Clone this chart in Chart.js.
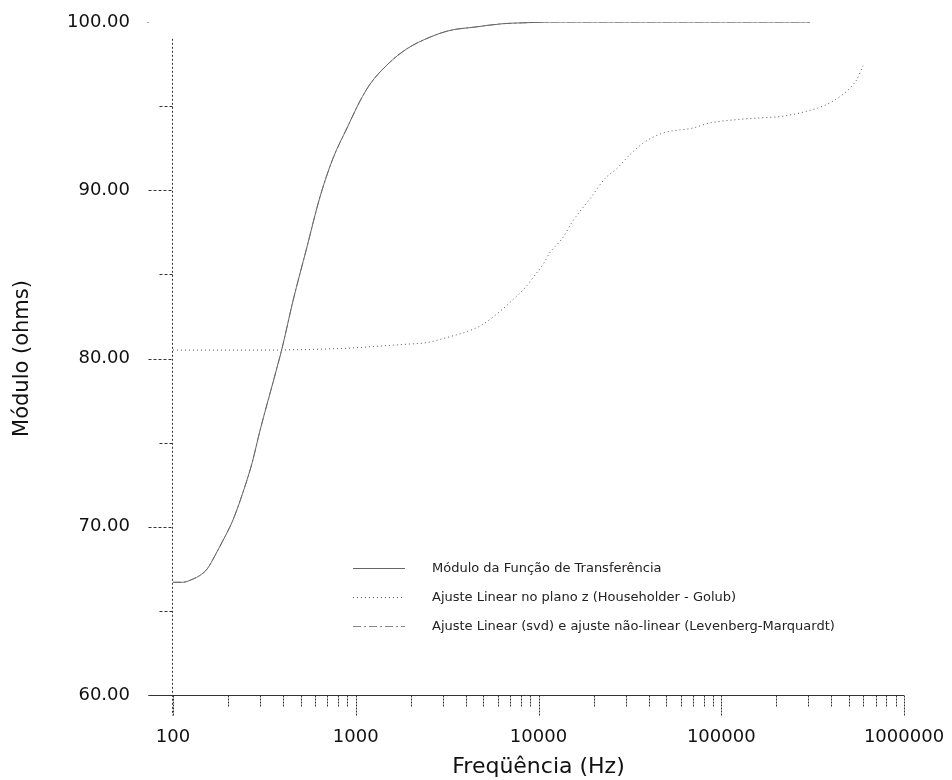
<!DOCTYPE html>
<html>
<head>
<meta charset="utf-8">
<script src="https://cdn.jsdelivr.net/npm/chart.js@4.4.1/dist/chart.umd.min.js"></script>
<style>
    body { margin: 0; background: #fff; }
    #wrap { width: 952px; height: 780px; }
</style>
</head>
<body>
<div id="wrap"><canvas id="chart" width="952" height="780"></canvas></div>
<script>
// Módulo medido (e ajuste LM, que coincide com ele)
const freqModulo = [100, 113, 129, 140, 154, 170, 188, 211, 239, 271, 299, 357, 395, 453, 540, 637, 751, 896,
    1055, 1196, 1500, 1900, 2550, 3280, 4490, 6400, 8200, 12000, 50000, 100000, 306000];
const moduloValues = [66.7, 66.7, 66.9, 67.1, 67.5, 68.3, 69.2, 70.3, 71.9, 73.8, 75.7, 78.8, 80.6, 83.4, 86.6, 89.6, 91.9, 93.7,
    95.3, 96.3, 97.5, 98.4, 99.1, 99.5, 99.7, 99.9, 99.95, 100, 100, 100, 100];
const lmValues = [66.7, 66.7, 66.9, 67.1, 67.5, 68.3, 69.2, 70.3, 71.9, 73.8, 75.7, 78.8, 80.6, 83.4, 86.6, 89.6, 91.9, 93.7,
    95.3, 96.3, 97.5, 98.4, 99.1, 99.5, 99.7, 99.9, 99.95, 100, 100, 100, 100];

// Ajuste no plano z (Householder - Golub)
const freqPlanoZ = [100, 264, 851, 1409, 1905, 2454, 3279, 4061, 4907, 6312, 7250, 8433, 9329, 10584, 11564, 13626,
    15250, 17300, 19140, 23130, 26900, 30900, 37350, 48000, 70000, 86700, 121800, 162800, 217600, 294500,
    360400, 408600, 463500, 519000, 553000, 597000];
const planoZValues = [80.5, 80.5, 80.6, 80.75, 80.85, 80.95, 81.3, 81.6, 82.0, 82.9, 83.5, 84.2, 84.8, 85.6, 86.3, 87.2,
    88.1, 88.9, 89.5, 90.7, 91.3, 92.0, 92.8, 93.4, 93.7, 94.0, 94.2, 94.3, 94.4, 94.7,
    95.0, 95.3, 95.7, 96.2, 96.6, 97.4];

const seriesLabels = [
    'Módulo da Função de Transferência',
    'Ajuste Linear no plano z (Householder - Golub)',
    'Ajuste Linear (svd) e ajuste não-linear (Levenberg-Marquardt)'
];

const xTickValues = [100, 1000, 10000, 100000, 1000000];
const xMinorFactors = [2, 3, 4, 5, 6, 7, 8, 9];
const yTickValues = [60, 70, 80, 90, 100];
const yMinorValues = [65, 75, 85, 95];

function toPoints(xs, ys) {
    return xs.map((x, i) => ({ x: x, y: ys[i] }));
}

const FONT = 'DejaVu Sans';

function noPadding(s) {
    s.paddingTop = 0;
    s.paddingBottom = 0;
    s.paddingLeft = 0;
    s.paddingRight = 0;
}

// eixos e marcas desenhados à mão, como no gráfico original
const axisPlugin = {
    id: 'axisPlugin',
    afterDraw(chart) {
        const ctx = chart.ctx;
        const xs = chart.scales.x;
        const ys = chart.scales.y;
        const x0 = Math.round(xs.getPixelForValue(100)) - 0.5;
        const y0 = Math.round(ys.getPixelForValue(60)) + 0.5;
        ctx.save();
        ctx.strokeStyle = '#333';
        ctx.lineWidth = 1;

        // eixo vertical pontilhado
        ctx.setLineDash([2, 2]);
        ctx.beginPath();
        ctx.moveTo(x0, ys.getPixelForValue(99));
        ctx.lineTo(x0, y0 + 20);
        ctx.stroke();

        // eixo horizontal
        ctx.setLineDash([]);
        ctx.beginPath();
        ctx.moveTo(x0 - 24, y0);
        ctx.lineTo(xs.getPixelForValue(1000000), y0);
        ctx.stroke();

        // marcas do eixo y
        ctx.setLineDash([3, 2]);
        yTickValues.forEach(v => {
            if (v === 100) return;
            const py = Math.round(ys.getPixelForValue(v)) + 0.5;
            ctx.beginPath();
            ctx.moveTo(x0 - 24, py);
            ctx.lineTo(x0, py);
            ctx.stroke();
        });
        ctx.fillStyle = '#555';
        ctx.fillRect(x0 - 25, Math.round(ys.getPixelForValue(100)), 1, 1);
        yMinorValues.forEach(v => {
            const py = Math.round(ys.getPixelForValue(v)) + 0.5;
            ctx.beginPath();
            ctx.moveTo(x0 - 13, py);
            ctx.lineTo(x0, py);
            ctx.stroke();
        });

        // marcas do eixo x
        ctx.setLineDash([2, 1]);
        xTickValues.forEach((v, i) => {
            const px = Math.round(xs.getPixelForValue(v)) + 0.5;
            ctx.beginPath();
            ctx.moveTo(px, y0);
            ctx.lineTo(px, y0 + 20);
            ctx.stroke();
            if (i < xTickValues.length - 1) {
                xMinorFactors.forEach(f => {
                    const mx = Math.round(xs.getPixelForValue(v * f)) + 0.5;
                    ctx.beginPath();
                    ctx.moveTo(mx, y0);
                    ctx.lineTo(mx, y0 + 11);
                    ctx.stroke();
                });
            }
        });
        ctx.restore();
    }
};

// legenda dentro da área do gráfico
const innerLegend = {
    id: 'innerLegend',
    afterDraw(chart) {
        const ctx = chart.ctx;
        const rows = [568, 597, 626];
        ctx.save();
        ctx.font = '13px "' + FONT + '"';
        ctx.textBaseline = 'middle';
        ctx.fillStyle = '#222';
        chart.data.datasets.forEach((ds, i) => {
            const y = rows[i] + 0.5;
            ctx.strokeStyle = ds.borderColor;
            ctx.lineWidth = ds.borderWidth;
            ctx.setLineDash(ds.borderDash || []);
            ctx.beginPath();
            ctx.moveTo(353, y);
            ctx.lineTo(405, y);
            ctx.stroke();
            ctx.fillText(ds.label, 432, y);
        });
        ctx.restore();
    }
};

new Chart(document.getElementById('chart'), {
    type: 'line',
    data: {
        datasets: [
            {
                label: seriesLabels[0],
                data: toPoints(freqModulo, moduloValues),
                borderColor: '#666',
                borderWidth: 1,
                pointRadius: 0,
                cubicInterpolationMode: 'monotone'
            },
            {
                label: seriesLabels[1],
                data: toPoints(freqPlanoZ, planoZValues),
                borderColor: '#555',
                borderWidth: 1,
                borderDash: [1, 3],
                pointRadius: 0,
                cubicInterpolationMode: 'monotone'
            },
            {
                label: seriesLabels[2],
                data: toPoints(freqModulo, lmValues),
                borderColor: '#888',
                borderWidth: 1,
                borderDash: [8, 3, 2, 3],
                pointRadius: 0,
                cubicInterpolationMode: 'monotone'
            }
        ]
    },
    options: {
        responsive: false,
        animation: false,
        devicePixelRatio: 1,
        layout: { padding: { top: 22, right: 48, left: 0, bottom: 0 } },
        plugins: {
            legend: { display: false },
            tooltip: { enabled: false }
        },
        scales: {
            x: {
                type: 'logarithmic',
                min: 100,
                max: 1000000,
                afterFit: s => { s.height = 85; noPadding(s); },
                afterBuildTicks: s => { s.ticks = xTickValues.map(v => ({ value: v })); },
                grid: { display: false, drawTicks: false },
                border: { display: false },
                ticks: {
                    callback: v => String(v),
                    font: { family: FONT, size: 18 },
                    color: '#111',
                    padding: 32,
                    maxRotation: 0,
                    autoSkip: false
                },
                title: {
                    display: true,
                    text: 'Freqüência (Hz)',
                    font: { family: FONT, size: 22 },
                    color: '#111',
                    padding: { top: 3, bottom: 0 }
                }
            },
            y: {
                type: 'linear',
                min: 60,
                max: 100,
                afterFit: s => { s.width = 173; noPadding(s); },
                afterBuildTicks: s => { s.ticks = yTickValues.map(v => ({ value: v })); },
                grid: { display: false, drawTicks: false },
                border: { display: false },
                ticks: {
                    callback: v => Number(v).toFixed(2),
                    font: { family: FONT, size: 18 },
                    color: '#111',
                    padding: 43
                },
                title: {
                    display: true,
                    text: 'Módulo (ohms)',
                    font: { family: FONT, size: 21 },
                    color: '#111',
                    padding: { top: 10, bottom: 0 }
                }
            }
        }
    },
    plugins: [axisPlugin, innerLegend]
});
</script>
</body>
</html>
